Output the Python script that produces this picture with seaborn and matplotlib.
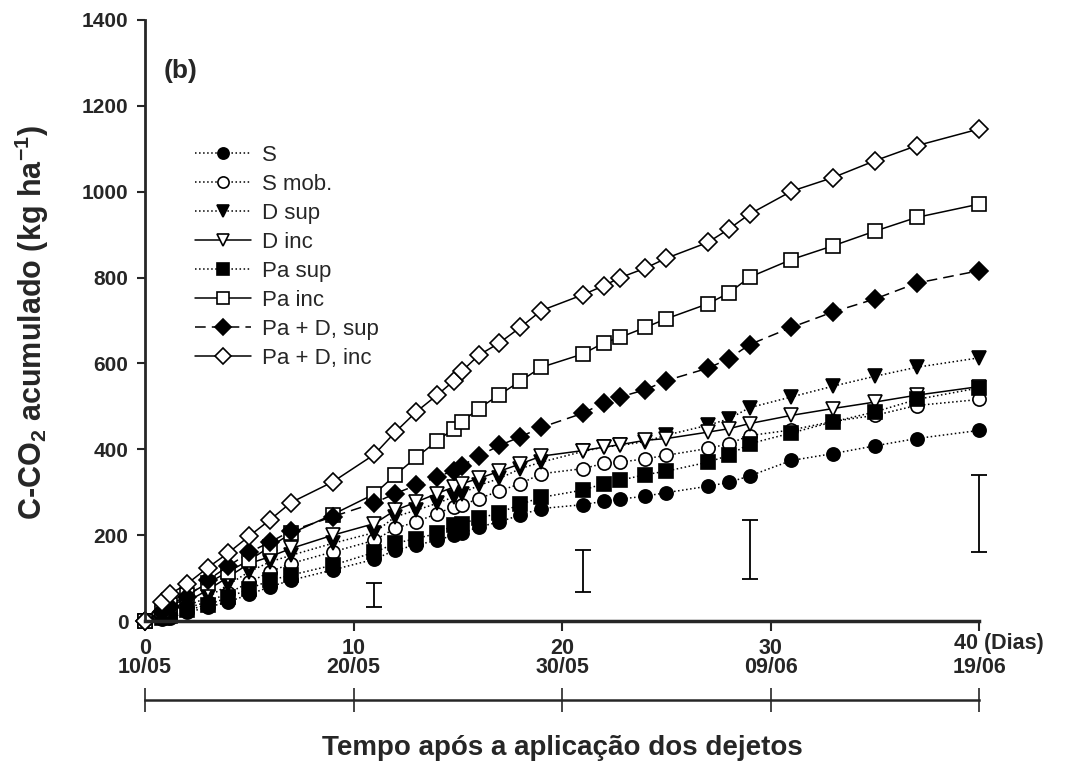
import matplotlib
matplotlib.use("Agg")
import matplotlib.pyplot as plt
import seaborn as sns

# dias de coleta e C-CO2 acumulado (kg/ha)
days = [0, 0.8, 1.2, 2, 3, 4, 5, 6, 7, 9, 11, 12, 13, 14, 14.8, 15.2, 16, 17, 18, 19,
        21, 22, 22.8, 24, 25, 27, 28, 29, 31, 33, 35, 37, 40]

s_vals = [0, 5, 8, 20, 32, 45, 62, 80, 95, 119, 144, 165, 177, 188, 200, 205, 219, 231, 247, 262,
          271, 279, 284, 291, 299, 314, 323, 338, 374, 390, 408, 425, 444]
s_mob = [0, 10, 15, 30, 45, 65, 90, 115, 134, 161, 188, 216, 231, 250, 266, 270, 285, 303, 320, 343,
         355, 367, 370, 378, 386, 402, 413, 432, 445, 465, 479, 502, 516]
d_sup = [0, 12, 20, 35, 55, 85, 115, 138, 153, 181, 206, 243, 258, 274, 289, 297, 316, 332, 355, 370,
         395, 405, 409, 418, 433, 456, 471, 497, 522, 547, 570, 591, 613]
d_inc = [0, 18, 28, 45, 72, 103, 134, 150, 169, 200, 227, 258, 277, 297, 312, 320, 332, 349, 366, 384,
         397, 405, 411, 421, 425, 440, 448, 460, 479, 495, 510, 526, 546]
pa_sup = [0, 8, 12, 25, 38, 55, 75, 95, 107, 130, 160, 181, 192, 204, 223, 227, 239, 252, 272, 288,
          305, 320, 328, 341, 349, 370, 386, 413, 438, 464, 487, 516, 543]
pa_inc = [0, 26, 37, 60, 88, 115, 142, 173, 204, 248, 296, 340, 381, 419, 448, 464, 495, 527, 559, 591,
          622, 648, 661, 684, 704, 739, 764, 801, 842, 874, 908, 940, 971]
pad_sup = [0, 22, 33, 55, 95, 128, 160, 184, 210, 243, 275, 297, 316, 336, 350, 362, 384, 409, 429, 451,
           484, 508, 522, 539, 560, 589, 611, 644, 684, 720, 750, 787, 816]
pad_inc = [0, 45, 63, 86, 124, 159, 198, 236, 276, 324, 388, 440, 487, 526, 559, 582, 619, 648, 684, 723,
           760, 781, 800, 822, 845, 882, 913, 948, 1001, 1033, 1072, 1107, 1146]

# barras de DMS
err_days = [11, 21, 29, 40]
err_lo = [33, 67, 97, 161]
err_hi = [89, 165, 235, 340]

tick_days = [0, 10, 20, 30, 40]
tick_nums = ["0", "10", "20", "30", ""]
tick_dates = ["10/05", "20/05", "30/05", "09/06", "19/06"]

sns.set_theme(style="ticks")
plt.rcParams["font.family"] = ["Liberation Sans", "DejaVu Sans"]
plt.rcParams["mathtext.fontset"] = "custom"
plt.rcParams["mathtext.rm"] = "Liberation Sans"
plt.rcParams["mathtext.bf"] = "Liberation Sans:bold"
plt.rcParams["mathtext.default"] = "bf"

fig = plt.figure(figsize=(10.72, 7.67), dpi=100)
ax = fig.add_axes([0.1353, 0.1903, 0.7780, 0.7837])

series = [
    ("S", s_vals, "o", ":", "black"),
    ("S mob.", s_mob, "o", ":", "white"),
    ("D sup", d_sup, "v", ":", "black"),
    ("D inc", d_inc, "v", "-", "white"),
    ("Pa sup", pa_sup, "s", ":", "black"),
    ("Pa inc", pa_inc, "s", "-", "white"),
    ("Pa + D, sup", pad_sup, "D", (0, (7, 4)), "black"),
    ("Pa + D, inc", pad_inc, "D", "-", "white"),
]
sizes = {"o": 9.5, "v": 10.5, "s": 9.5, "D": 9}

for name, vals, mk, ls, fc in series:
    sns.lineplot(x=days, y=vals, ax=ax, label=name, color="black", linestyle=ls,
                 linewidth=1.1, marker=mk, markersize=sizes[mk], markerfacecolor=fc,
                 markeredgecolor="black", markeredgewidth=1.2, clip_on=False)

# barras de erro
for d, lo, hi in zip(err_days, err_lo, err_hi):
    ax.errorbar(d, (lo + hi) / 2, yerr=(hi - lo) / 2, fmt="none", ecolor="black",
                elinewidth=1.3, capsize=6, capthick=1.3, clip_on=False)

ax.set_xlim(0, 40)
ax.set_ylim(0, 1400)
ax.set_yticks(range(0, 1401, 200))
ax.set_xticks(tick_days)
ax.set_xticklabels(tick_nums)
for lab in ax.get_xticklabels() + ax.get_yticklabels():
    lab.set_fontweight("bold")
ax.tick_params(axis="y", labelsize=15, length=6, width=1.5, pad=6, direction="out")
ax.tick_params(axis="x", labelsize=15.5, length=7, width=1.5, pad=5, direction="out")
sns.despine(ax=ax)
ax.spines["left"].set_linewidth(2)
ax.spines["bottom"].set_linewidth(2.5)
ax.set_xlabel("")
ax.set_ylabel("")

ax.text(38.8, -0.037, "40 (Dias)", transform=ax.get_xaxis_transform(), ha="left", va="center",
        fontsize=15.5, fontweight="bold")

# linha com as datas
dates = ax.secondary_xaxis(0)
dates.set_xticks(tick_days)
dates.set_xticklabels(tick_dates, fontsize=15.5, fontweight="bold")
dates.tick_params(length=0, pad=26)
dates.spines["bottom"].set_visible(False)

# eixo secundario com a linha do tempo
sec = ax.secondary_xaxis(-0.1314)
sec.set_xticks(tick_days)
sec.set_xticklabels([])
sec.tick_params(direction="inout", length=17, width=1.2)
sec.spines["bottom"].set_linewidth(1.8)

ax.text(0.022, 0.915, "(b)", transform=ax.transAxes, fontsize=19, fontweight="bold",
        ha="left", va="center")

fig.text(0.525, 0.025, "Tempo após a aplicação dos dejetos", ha="center", va="center",
         fontsize=20, fontweight="bold")
fig.text(0.03, 0.58, r"C-CO$_2$ acumulado (kg ha$^{-1}$)", rotation=90, ha="center",
         va="center", fontsize=22, fontweight="bold")

leg = ax.legend(loc="upper left", bbox_to_anchor=(0.047, 0.81), frameon=False, fontsize=16,
                handlelength=2.5, handletextpad=0.5, labelspacing=0.36, borderpad=0,
                markerscale=0.85)

fig.savefig("out.png", dpi=100)
